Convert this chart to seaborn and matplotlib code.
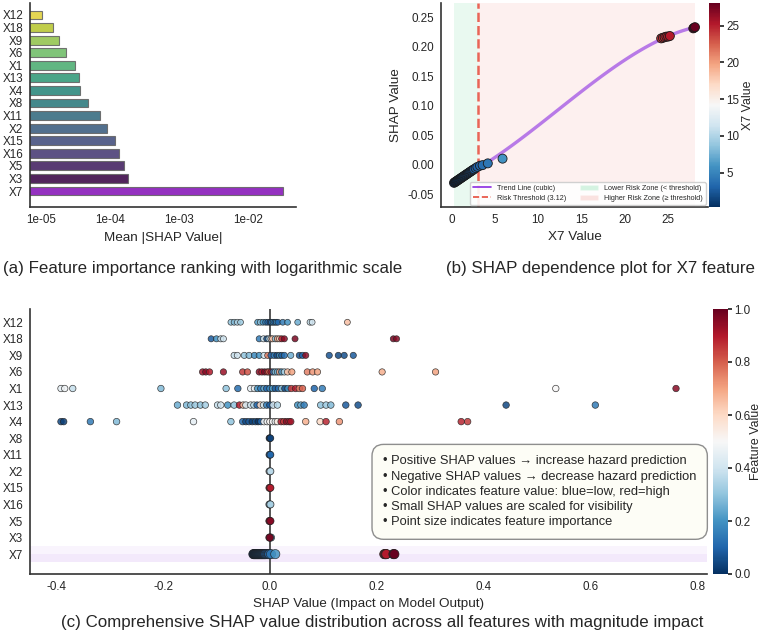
import numpy as np
import pandas as pd
import seaborn as sns
import matplotlib
matplotlib.use("Agg")
import matplotlib.pyplot as plt
from matplotlib.lines import Line2D
from matplotlib.patches import Patch
from matplotlib.colors import Normalize
from matplotlib.cm import ScalarMappable
from matplotlib.ticker import FixedLocator, FuncFormatter

sns.set_theme(style="white")
plt.rcParams["font.family"] = ["Liberation Sans", "DejaVu Sans"]

# ---- datos panel (a): importancia media |SHAP|, de arriba a abajo
features = ["X12", "X18", "X9", "X6", "X1", "X13", "X4", "X8",
            "X11", "X2", "X15", "X16", "X5", "X3", "X7"]
mean_abs_shap = [1.02e-5, 1.48e-5, 1.8e-5, 2.33e-5, 3.1e-5, 3.5e-5, 3.7e-5, 4.85e-5,
                 7.2e-5, 9.1e-5, 1.17e-4, 1.35e-4, 1.58e-4, 1.82e-4, 3.3e-2]

# ---- datos panel (b): dependencia X7
x7_value = [0.3, 0.4, 0.5, 0.6, 0.7, 0.8, 0.9, 1.0, 1.1, 1.2, 1.3, 1.4, 1.5, 1.6,
            1.7, 1.8, 1.9, 2.0, 2.1, 2.2, 2.3, 2.4, 2.5, 2.6, 2.8, 3.0, 3.3, 3.6,
            4.2, 5.9, 24.2, 24.4, 24.6, 24.8, 25.0, 25.2, 27.9, 28.0, 28.1]
x7_shap = [-0.031, -0.030, -0.029, -0.028, -0.027, -0.026, -0.025, -0.024, -0.023,
           -0.022, -0.021, -0.020, -0.019, -0.018, -0.017, -0.016, -0.015, -0.014,
           -0.013, -0.012, -0.011, -0.010, -0.009, -0.008, -0.006, -0.004, -0.002,
           -0.001, 0.002, 0.010, 0.214, 0.215, 0.216, 0.217, 0.217, 0.218,
           0.231, 0.232, 0.233]
threshold = 3.12

# ---- datos panel (c): valores SHAP y valor normalizado de cada variable
shap_X12 = [-0.073, -0.067, -0.061, -0.055, -0.023, -0.018, -0.013, -0.008, -0.004, 0.0,
            0.003, 0.006, 0.009, 0.012, 0.015, 0.024, 0.033, 0.052, 0.075, 0.079, 0.145]
fv_X12 = [0.3, 0.28, 0.35, 0.32, 0.22, 0.3, 0.2, 0.15, 0.1, 0.05, 0.12, 0.18, 0.08, 0.2,
          0.1, 0.15, 0.2, 0.25, 0.38, 0.4, 0.65]
shap_X18 = [-0.110, -0.100, -0.092, -0.087, -0.020, -0.012, -0.006, -0.002, 0.002, 0.005,
            0.010, 0.014, 0.018, 0.022, 0.027, 0.047, 0.231, 0.237]
fv_X18 = [0.08, 0.2, 0.38, 0.4, 0.15, 0.4, 0.05, 0.35, 0.6, 0.65, 0.3, 0.7, 0.62, 0.9,
          0.95, 0.97, 0.98, 0.96]
shap_X9 = [-0.067, -0.061, -0.048, -0.039, -0.029, -0.020, -0.011, -0.004, 0.002, 0.008,
           0.013, 0.018, 0.022, 0.027, 0.039, 0.055, 0.061, 0.067, 0.111, 0.128, 0.139, 0.156]
fv_X9 = [0.38, 0.4, 0.3, 0.28, 0.18, 0.2, 0.4, 0.75, 0.1, 0.15, 0.05, 0.2, 0.08, 0.12,
         0.25, 0.06, 0.1, 0.95, 0.07, 0.05, 0.06, 0.08]
shap_X6 = [-0.126, -0.120, -0.113, -0.087, -0.051, -0.042, -0.020, -0.015, -0.010, -0.005,
           -0.002, 0.002, 0.006, 0.010, 0.014, 0.018, 0.022, 0.027, 0.033, 0.041, 0.070,
           0.080, 0.089, 0.210, 0.310]
fv_X6 = [0.92, 0.95, 0.9, 0.93, 0.85, 0.82, 0.95, 0.9, 0.97, 0.88, 0.8, 0.92, 0.15, 0.3,
         0.25, 0.7, 0.2, 0.35, 0.65, 0.7, 0.75, 0.72, 0.7, 0.68, 0.7]
shap_X1 = [-0.391, -0.384, -0.369, -0.204, -0.082, -0.060, -0.036, -0.029, -0.023, -0.017,
           -0.011, -0.006, 0.0, 0.005, 0.010, 0.016, 0.022, 0.028, 0.034, 0.040, 0.048,
           0.055, 0.061, 0.083, 0.098, 0.535, 0.760]
fv_X1 = [0.45, 0.48, 0.38, 0.28, 0.3, 0.12, 0.45, 0.47, 0.2, 0.15, 0.25, 0.1, 0.18, 0.22,
         0.08, 0.12, 0.3, 0.05, 0.2, 0.85, 0.9, 0.75, 0.8, 0.1, 0.15, 0.5, 0.95]
shap_X13 = [-0.173, -0.156, -0.148, -0.140, -0.130, -0.121, -0.098, -0.092, -0.079, -0.067,
            -0.057, -0.050, -0.045, -0.036, -0.030, -0.024, -0.018, -0.012, -0.006, 0.0,
            0.006, 0.014, 0.052, 0.058, 0.064, 0.095, 0.105, 0.114, 0.142, 0.165, 0.442, 0.609]
fv_X13 = [0.25, 0.28, 0.3, 0.32, 0.3, 0.33, 0.38, 0.4, 0.2, 0.3, 0.9, 0.65, 0.42, 0.4,
          0.35, 0.1, 0.6, 0.38, 0.15, 0.08, 0.4, 0.35, 0.2, 0.25, 0.15, 0.3, 0.32, 0.28,
          0.08, 0.06, 0.05, 0.15]
shap_X4 = [-0.391, -0.386, -0.336, -0.287, -0.143, -0.073, -0.051, -0.045, -0.039, -0.033,
           -0.027, -0.022, -0.017, -0.011, -0.005, 0.0, 0.005, 0.010, 0.014, 0.021, 0.026,
           0.031, 0.036, 0.039, 0.067, 0.094, 0.105, 0.130, 0.358, 0.370]
fv_X4 = [0.05, 0.03, 0.15, 0.28, 0.45, 0.3, 0.1, 0.05, 0.08, 0.02, 0.06, 0.0, 0.1, 0.5,
         0.48, 0.52, 0.5, 0.47, 0.55, 0.9, 0.85, 0.95, 0.88, 0.92, 0.68, 0.6, 0.88, 0.72,
         0.88, 0.85]
shap_X8 = [-0.001, 0.0, 0.001]
fv_X8 = [0.02, 0.0, 0.04]
shap_X11 = [-0.001, 0.0, 0.001]
fv_X11 = [0.12, 0.15, 0.1]
shap_X2 = [-0.001, 0.0, 0.001]
fv_X2 = [0.38, 0.4, 0.36]
shap_X15 = [-0.001, 0.0, 0.001]
fv_X15 = [0.88, 0.86, 0.9]
shap_X16 = [-0.001, 0.0, 0.001]
fv_X16 = [0.32, 0.3, 0.34]
shap_X5 = [-0.001, 0.0, 0.001]
fv_X5 = [0.95, 0.93, 0.96]
shap_X3 = [0.002, -0.001, 0.0]
fv_X3 = [0.2, 0.97, 0.98]

# ---- figura
W, H = 763, 642
fig = plt.figure(figsize=(W / 100, H / 100), dpi=100)


def box(l, t, r, b):
    return [l / W, 1 - b / H, (r - l) / W, (b - t) / H]


spine_col = "#333333"
TICK, LAB, CBLAB = 8.4, 9.7, 8.9


def style_axes(ax):
    sns.despine(ax=ax)
    ax.tick_params(labelsize=TICK, length=0, pad=5)
    for s in ["left", "bottom"]:
        ax.spines[s].set_color(spine_col)
        ax.spines[s].set_linewidth(1.2)


# ===== (a) ranking de importancia
ax_a = fig.add_axes(box(30, 3, 296, 207))
pal = [tuple(c) for c in plt.cm.viridis(np.linspace(0, 1, 14))[::-1]] + ["#9400D3"]
df_a = pd.DataFrame({"feature": features, "value": mean_abs_shap})
sns.barplot(data=df_a, x="value", y="feature", hue="feature", palette=pal,
            orient="h", width=0.7, edgecolor="#666666", linewidth=0.8,
            alpha=0.9, legend=False, ax=ax_a)
ax_a.set_xscale("log")
ax_a.set_xlim(10 ** -5.16, 10 ** -1.30)
ax_a.set_ylim(15.27, -0.95)
ax_a.xaxis.set_major_locator(FixedLocator([1e-5, 1e-4, 1e-3, 1e-2]))
ax_a.xaxis.set_major_formatter(FuncFormatter(lambda v, p: f"{v:.0e}"))
ax_a.xaxis.set_minor_locator(FixedLocator([]))
ax_a.set_xlabel("Mean |SHAP Value|", fontsize=LAB)
ax_a.set_ylabel("")
style_axes(ax_a)

# ===== (b) dependencia X7
ax_b = fig.add_axes(box(441, 3, 708, 207))
cax_b = fig.add_axes(box(709, 3, 720, 207))
xmin, xmax = min(x7_value), max(x7_value)
ax_b.axvspan(xmin, threshold, color="#2ecc71", alpha=0.1, lw=0)
ax_b.axvspan(threshold, xmax, color="#e74c3c", alpha=0.08, lw=0)
ax_b.axvline(threshold, color="#e74c3c", ls="--", lw=1.8, alpha=0.85)
sns.regplot(x=x7_value, y=x7_shap, order=3, scatter=False, ci=None,
            line_kws=dict(color="#8A2BE2", lw=2.4, alpha=0.6), ax=ax_b)
sns.scatterplot(x=x7_value, y=x7_shap, hue=x7_value, palette="RdBu_r",
                hue_norm=(xmin, xmax), s=42, edgecolor="#1a1a1a", linewidth=0.6,
                legend=False, zorder=3, ax=ax_b)
ax_b.set_xlim(-1.2, 29.6)
ax_b.set_ylim(-0.072, 0.274)
ax_b.set_xticks([0, 5, 10, 15, 20, 25])
ax_b.set_yticks([-0.05, 0.0, 0.05, 0.10, 0.15, 0.20, 0.25])
ax_b.yaxis.set_major_formatter(FuncFormatter(lambda v, p: f"{v:.2f}"))
ax_b.set_xlabel("X7 Value", fontsize=LAB)
ax_b.set_ylabel("SHAP Value", fontsize=LAB)
style_axes(ax_b)
cb_b = fig.colorbar(ScalarMappable(norm=Normalize(xmin, xmax), cmap="RdBu_r"), cax=cax_b)
cb_b.set_ticks([5, 10, 15, 20, 25])
cb_b.ax.tick_params(labelsize=TICK, length=3, pad=1.5)
cb_b.set_label("X7 Value", fontsize=CBLAB, labelpad=2)
cb_b.outline.set_visible(False)
handles = [Line2D([], [], color="#8A2BE2", lw=1.2),
           Line2D([], [], color="#e74c3c", ls="--", lw=1.2),
           Patch(facecolor="#2ecc71", alpha=0.2),
           Patch(facecolor="#e74c3c", alpha=0.15)]
labels = ["Trend Line (cubic)", "Risk Threshold (3.12)",
          "Lower Risk Zone (< threshold)", "Higher Risk Zone (≥ threshold)"]
ax_b.legend(handles, labels, loc="lower right", ncol=2, fontsize=5.2,
            frameon=True, framealpha=0.9, borderaxespad=0.3, handlelength=2.5,
            columnspacing=2.0, handletextpad=0.8, borderpad=0.4, labelspacing=0.4)

# ===== (c) distribución SHAP
ax_c = fig.add_axes(box(30, 309, 707, 574))
cax_c = fig.add_axes(box(713, 309, 728, 574))
shap_lists = {"X12": (shap_X12, fv_X12), "X18": (shap_X18, fv_X18), "X9": (shap_X9, fv_X9),
              "X6": (shap_X6, fv_X6), "X1": (shap_X1, fv_X1), "X13": (shap_X13, fv_X13),
              "X4": (shap_X4, fv_X4), "X8": (shap_X8, fv_X8), "X11": (shap_X11, fv_X11),
              "X2": (shap_X2, fv_X2), "X15": (shap_X15, fv_X15), "X16": (shap_X16, fv_X16),
              "X5": (shap_X5, fv_X5), "X3": (shap_X3, fv_X3)}
x7_fv = [(v - xmin) / (xmax - xmin) for v in x7_value]
shap_lists["X7"] = (x7_shap, x7_fv)
rows = []
n = len(features)
for i, f in enumerate(features):
    sv, fv = shap_lists[f]
    for a, b in zip(sv, fv):
        rows.append({"feature": f, "shap": a, "fv": b, "ypos": n - 1 - i,
                     "imp": np.log10(mean_abs_shap[i])})
df_c = pd.DataFrame(rows)

ax_c.axhspan(-0.5, 0.5, color="#8A2BE2", alpha=0.05, lw=0)
ax_c.axhspan(-0.5, 0.0, color="#8A2BE2", alpha=0.05, lw=0)
ax_c.axvline(0, color="#555555", lw=1.4, zorder=1)
sns.scatterplot(data=df_c, x="shap", y="ypos", hue="fv", palette="RdBu_r",
                hue_norm=(0, 1), size="imp", sizes=(18, 44), size_norm=(-5, -1.48),
                edgecolor="#222222", linewidth=0.5, alpha=0.85, legend=False,
                zorder=3, ax=ax_c)
ax_c.set_xlim(-0.449, 0.818)
ax_c.set_ylim(-1.2, 14.8)
ax_c.set_yticks(range(n))
ax_c.set_yticklabels(features[::-1])
ax_c.set_xticks([-0.4, -0.2, 0.0, 0.2, 0.4, 0.6, 0.8])
ax_c.xaxis.set_major_formatter(FuncFormatter(lambda v, p: f"{v:.1f}"))
ax_c.set_xlabel("SHAP Value (Impact on Model Output)", fontsize=LAB)
ax_c.set_ylabel("")
style_axes(ax_c)
cb_c = fig.colorbar(ScalarMappable(norm=Normalize(0, 1), cmap="RdBu_r"), cax=cax_c)
cb_c.set_ticks([0.0, 0.2, 0.4, 0.6, 0.8, 1.0])
cb_c.ax.tick_params(labelsize=TICK, length=3, pad=1.5)
cb_c.set_label("Feature Value", fontsize=CBLAB, labelpad=0)
cb_c.outline.set_visible(False)

note = ("• Positive SHAP values → increase hazard prediction\n"
        "• Negative SHAP values → decrease hazard prediction\n"
        "• Color indicates feature value: blue=low, red=high\n"
        "• Small SHAP values are scaled for visibility\n"
        "• Point size indicates feature importance")
ax_c.text(0.5214, 0.31, note, transform=ax_c.transAxes, ha="left", va="center",
          fontsize=9.3, linespacing=1.36, zorder=5,
          bbox=dict(boxstyle="round,pad=0.85,rounding_size=0.9", facecolor="#fdfdf6",
                    edgecolor="#888888", linewidth=1.0, alpha=0.95))

# ---- leyendas de cada panel
fig.text(203 / W, 1 - 268 / H, "(a) Feature importance ranking with logarithmic scale",
         ha="center", va="center", fontsize=12.2)
fig.text(600 / W, 1 - 268 / H, "(b) SHAP dependence plot for X7 feature",
         ha="center", va="center", fontsize=12.2)
fig.text(382 / W, 1 - 622 / H,
         "(c) Comprehensive SHAP value distribution across all features with magnitude impact",
         ha="center", va="center", fontsize=12.2)

fig.savefig("out.png", dpi=100)
